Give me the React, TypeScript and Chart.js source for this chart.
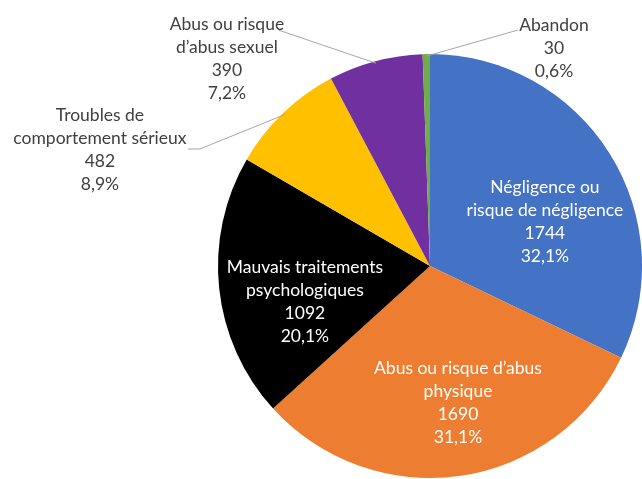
import React, { useEffect, useRef } from "react";
import { Chart, registerables } from "chart.js";
Chart.register(...registerables);

const categories = [
  "Négligence ou risque de négligence",
  "Abus ou risque d’abus physique",
  "Mauvais traitements psychologiques",
  "Troubles de comportement sérieux",
  "Abus ou risque d’abus sexuel",
  "Abandon",
];
const categoryLines = [
  ["Négligence ou", "risque de négligence"],
  ["Abus ou risque d’abus", "physique"],
  ["Mauvais traitements", "psychologiques"],
  ["Troubles de", "comportement sérieux"],
  ["Abus ou risque", "d’abus sexuel"],
  ["Abandon"],
];
const values = [1744, 1690, 1092, 482, 390, 30];
const colors = ["#4472C4", "#ED7D31", "#000000", "#FFC000", "#7030A0", "#70AD47"];

// label block centres, relative to pie centre, in units of radius
const labelPos: [number, number][] = [
  [0.542, -0.208],
  [0.132, 0.646],
  [-0.59, 0.17],
  [-1.557, -0.55],
  [-0.958, -0.976],
  [0.585, -1.026],
];
const labelInside = [true, true, true, false, false, false];
// leader line start points (and optional elbow), relative to centre in radius units
const leaderPts: ([number, number][] | null)[] = [
  null,
  null,
  null,
  [[-1.142, -0.552], [-1.085, -0.552]],
  [[-0.715, -1.113]],
  [[0.415, -1.113]],
];

const FONT = "17.5px Lato, 'Open Sans', sans-serif";
const LINE_H = 23;

const labelPlugin = {
  id: "pieLabels",
  afterDatasetsDraw(chart: any) {
    const ctx = chart.ctx;
    const meta = chart.getDatasetMeta(0);
    const total = values.reduce((a, b) => a + b, 0);
    ctx.save();
    meta.data.forEach((arc: any, i: number) => {
      const { x: cx, y: cy, outerRadius: r, startAngle, endAngle } = arc.getProps(
        ["x", "y", "outerRadius", "startAngle", "endAngle"],
        true
      );
      const mid = (startAngle + endAngle) / 2;
      const lines = [
        ...categoryLines[i],
        String(values[i]),
        ((values[i] / total) * 100).toFixed(1).replace(".", ",") + "%",
      ];
      const bx = cx + labelPos[i][0] * r;
      const by = cy + labelPos[i][1] * r;
      const pts = leaderPts[i];
      if (pts) {
        ctx.strokeStyle = "#A6A6A6";
        ctx.lineWidth = 1;
        ctx.beginPath();
        pts.forEach((p, k) => {
          const px = cx + p[0] * r;
          const py = cy + p[1] * r;
          if (k === 0) ctx.moveTo(px, py);
          else ctx.lineTo(px, py);
        });
        ctx.lineTo(cx + Math.cos(mid) * r * 0.99, cy + Math.sin(mid) * r * 0.99);
        ctx.stroke();
      }
      ctx.font = FONT;
      ctx.fillStyle = labelInside[i] ? "#FFFFFF" : "#404040";
      ctx.textAlign = "center";
      ctx.textBaseline = "middle";
      const top = by - ((lines.length - 1) * LINE_H) / 2;
      lines.forEach((t, k) => ctx.fillText(t, bx, top + k * LINE_H));
    });
    ctx.restore();
  },
};

export default function App() {
  const ref = useRef<HTMLCanvasElement>(null);
  useEffect(() => {
    const chart = new Chart(ref.current!, {
      type: "pie",
      data: {
        labels: categories,
        datasets: [
          {
            data: values,
            backgroundColor: colors,
            borderWidth: 0,
          },
        ],
      },
      options: {
        responsive: false,
        animation: false,
        layout: { padding: { left: 218, right: 0, top: 54, bottom: 1 } },
        plugins: {
          legend: { display: false },
          tooltip: { enabled: false },
        },
      },
      plugins: [labelPlugin],
    });
    return () => chart.destroy();
  }, []);
  return (
    <div style={{ position: "fixed", left: 0, top: 0, width: 642, height: 479, background: "#fff" }}>
      <canvas ref={ref} width={642} height={479} />
    </div>
  );
}
